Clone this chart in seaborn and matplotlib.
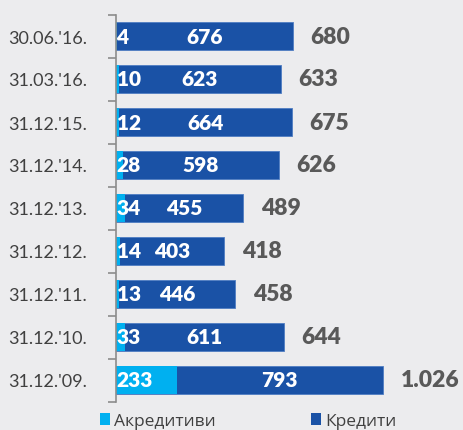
import matplotlib
matplotlib.use("Agg")
import matplotlib.pyplot as plt
import seaborn as sns
import pandas as pd
import numpy as np
from matplotlib.patches import Patch

categories = ["30.06.'16.", "31.03.'16.", "31.12.'15.", "31.12.'14.", "31.12.'13.",
              "31.12.'12.", "31.12.'11.", "31.12.'10.", "31.12.'09."]
akreditivi = [4, 10, 12, 28, 34, 14, 13, 33, 233]
krediti = [676, 623, 664, 598, 455, 403, 446, 611, 793]
totals = [680, 633, 675, 626, 489, 418, 458, 644, 1026]
total_labels = ["680", "633", "675", "626", "489", "418", "458", "644", "1.026"]
series_names = ["Акредитиви", "Кредити"]

LIGHT = "#00B0F0"
DARK = "#1A52A6"
BG = "#ECECEE"

sns.set_theme(style="white")
plt.rcParams['font.family'] = ['Lato', 'DejaVu Sans']

fig = plt.figure(figsize=(4.63, 4.31), dpi=100, facecolor=BG)
ax = fig.add_axes([116/463, 1-402.5/431, 1-116/463, (402.5-15.5)/431])
ax.set_facecolor(BG)

df = pd.DataFrame({"cat": categories, "a": akreditivi, "k": krediti})
df["stack"] = df["a"] + df["k"]

sns.barplot(data=df, x="stack", y="cat", color=DARK, saturation=1, width=0.65,
            edgecolor="#4F7DC2", linewidth=0.6, ax=ax)
sns.barplot(data=df, x="a", y="cat", color=LIGHT, saturation=1, width=0.65,
            linewidth=0, ax=ax)

ax.set_xlim(0, 1334)
ax.set_ylim(len(categories) - 0.5, -0.5)
ax.set_xlabel("")
ax.set_ylabel("")
ax.set_xticks([])

for i, (a, k, t, tl) in enumerate(zip(akreditivi, krediti, totals, total_labels)):
    ax.text(2, i, str(a), ha="left", va="center", color="white",
            fontsize=15, fontweight="heavy")
    ax.text(a + k / 2, i, str(k), ha="center", va="center", color="white",
            fontsize=15, fontweight="heavy")
    ax.text(a + k + 68, i, tl, ha="left", va="center", color="#595959",
            fontsize=16.5, fontweight="heavy")

for s in ["top", "right", "bottom"]:
    ax.spines[s].set_visible(False)
ax.spines["left"].set_color("#8C8C8C")
ax.spines["left"].set_linewidth(1.2)

ax.set_yticks(range(len(categories)))
ax.set_yticklabels(categories, fontsize=13, color="#404040")
ax.tick_params(axis="y", which="major", length=0, pad=21)
ax.set_yticks(np.arange(-0.5, len(categories), 1), minor=True)
ax.tick_params(axis="y", which="minor", length=6, width=1.2, color="#8C8C8C", left=True)

handles = [Patch(facecolor=LIGHT, edgecolor="none"), Patch(facecolor=DARK, edgecolor="none")]
fig.legend(handles, series_names, loc="lower left", bbox_to_anchor=(100/463, 1/431),
           ncol=2, frameon=False, prop={"family": ["Open Sans", "DejaVu Sans"], "size": 12.5},
           handlelength=0.6, handleheight=0.7, borderpad=0, borderaxespad=0,
           handletextpad=0.2, columnspacing=5.5, labelcolor="#404040")

fig.savefig("out.png", dpi=100, facecolor=BG)
